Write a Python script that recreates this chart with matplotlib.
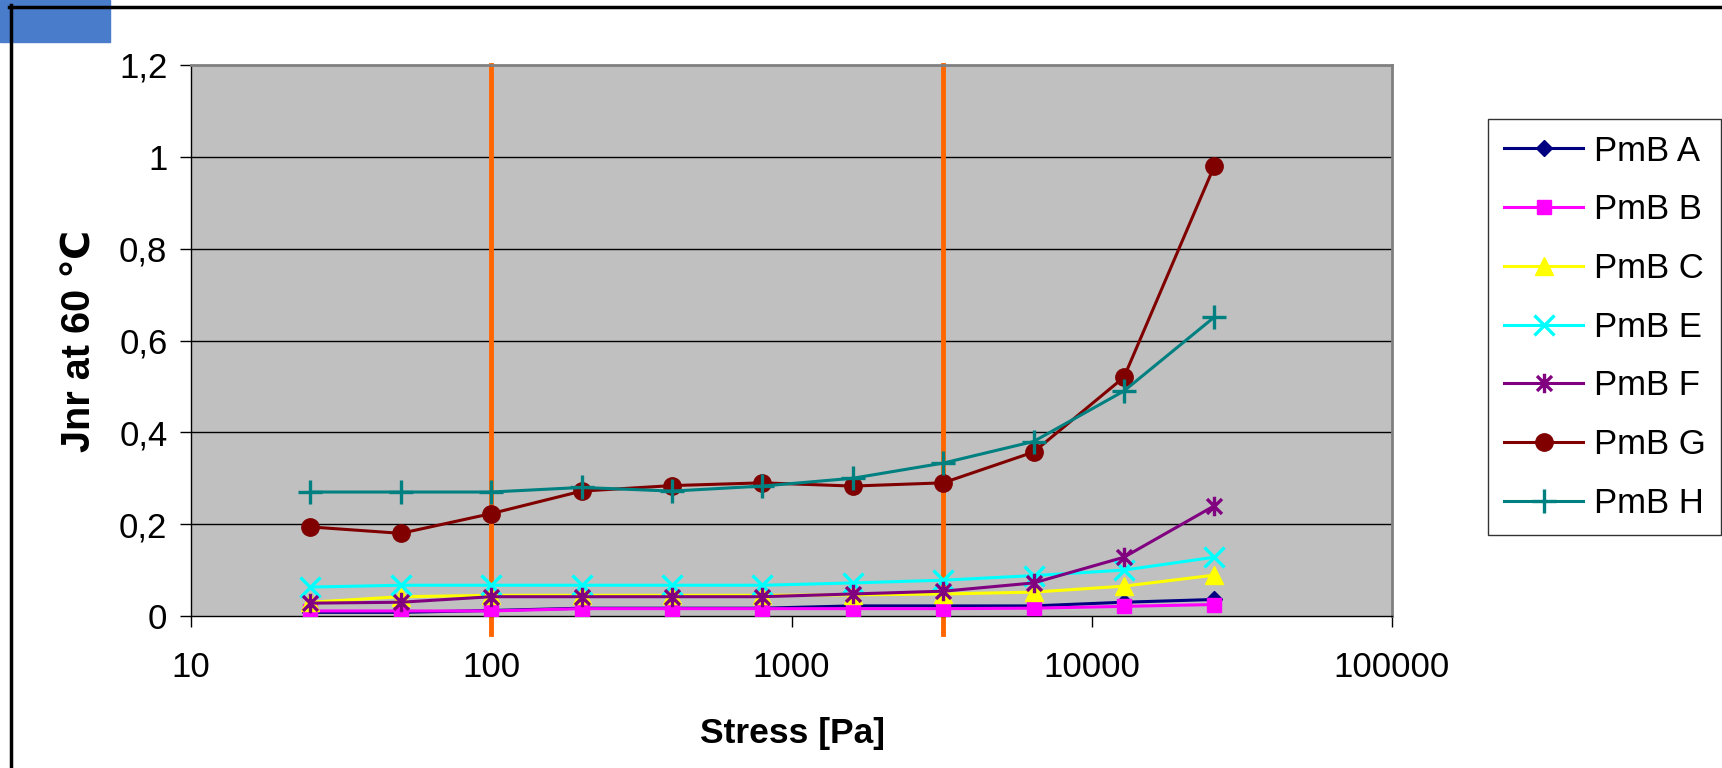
import matplotlib
matplotlib.use('Agg')
from matplotlib import pyplot as plt
from matplotlib.lines import Line2D
from matplotlib.patches import Rectangle
from matplotlib.path import Path
from matplotlib.ticker import FixedLocator, FuncFormatter, NullLocator
import numpy as np

plt.rcParams['font.family'] = ['Liberation Sans', 'DejaVu Sans']

# Data
stress = [25, 50, 100, 200, 400, 800, 1600, 3200, 6400, 12800, 25600]
pmb_a = [0.008, 0.008, 0.012, 0.017, 0.017, 0.017, 0.022, 0.022, 0.022, 0.030, 0.036]
pmb_b = [0.011, 0.011, 0.011, 0.016, 0.016, 0.016, 0.016, 0.016, 0.017, 0.021, 0.025]
pmb_c = [0.030, 0.042, 0.045, 0.045, 0.045, 0.045, 0.046, 0.048, 0.052, 0.065, 0.089]
pmb_e = [0.063, 0.067, 0.067, 0.067, 0.067, 0.067, 0.072, 0.078, 0.088, 0.100, 0.128]
pmb_f = [0.028, 0.030, 0.042, 0.042, 0.042, 0.042, 0.048, 0.054, 0.072, 0.128, 0.240]
pmb_g = [0.194, 0.180, 0.223, 0.272, 0.284, 0.290, 0.283, 0.290, 0.357, 0.520, 0.980]
pmb_h = [0.270, 0.270, 0.270, 0.280, 0.272, 0.283, 0.300, 0.333, 0.380, 0.490, 0.651]
labels = ['PmB A', 'PmB B', 'PmB C', 'PmB E', 'PmB F', 'PmB G', 'PmB H']
series = [pmb_a, pmb_b, pmb_c, pmb_e, pmb_f, pmb_g, pmb_h]
limits = [100, 3200]
yticks = [0, 0.2, 0.4, 0.6, 0.8, 1.0, 1.2]
xticks = [10, 100, 1000, 10000, 100000]

# Excel style star: an x with a vertical bar
star = Path([(-1, -1), (1, 1), (-1, 1), (1, -1), (0, -1.3), (0, 1.3)],
            [Path.MOVETO, Path.LINETO, Path.MOVETO, Path.LINETO, Path.MOVETO, Path.LINETO])

styles = [
    dict(color='#000080', marker='D', ms=8),
    dict(color='#FF00FF', marker='s', ms=10),
    dict(color='#FFFF00', marker='^', ms=13),
    dict(color='#00FFFF', marker='x', ms=14, mew=2.4),
    dict(color='#800080', marker=star, ms=14, mew=2.4),
    dict(color='#800000', marker='o', ms=12.5),
    dict(color='#008080', marker='+', ms=17, mew=2.4),
]

fig = plt.figure(figsize=(17.22, 7.68), dpi=100)
W, H = 1722, 768

# logo fragment and frame
fig.patches.append(Rectangle((0, 1 - 42 / H), 110 / W, 42 / H, transform=fig.transFigure,
                             color='#4a7ccc', zorder=0))
fig.lines.append(Line2D([10.5 / W, 10.5 / W], [0, 1 - 5 / H], transform=fig.transFigure,
                        color='black', lw=2.5))
fig.lines.append(Line2D([9 / W, 1], [1 - 6.5 / H, 1 - 6.5 / H], transform=fig.transFigure,
                        color='black', lw=2.5))

ax = fig.add_axes([191 / W, 1 - 616 / H, (1392 - 191) / W, (616 - 65) / H])
ax.set_facecolor('#C0C0C0')
ax.set_xscale('log')
ax.set_xlim(10, 100000)
ax.set_ylim(0, 1.2)

for y in yticks[1:-1]:
    ax.axhline(y, color='black', lw=1, zorder=1)

for x in limits:
    ax.plot([x, x], [-0.04, 1.2], color='#FF6600', lw=3.5, clip_on=False, zorder=2)

for vals, lab, st in zip(series, labels, styles):
    ax.plot(stress, vals, lw=2.2, label=lab, zorder=3, **st)

ax.xaxis.set_major_locator(FixedLocator(xticks))
ax.xaxis.set_minor_locator(NullLocator())
ax.xaxis.set_major_formatter(FuncFormatter(lambda v, p: f'{int(v)}'))
ax.yaxis.set_major_locator(FixedLocator(yticks))
ax.yaxis.set_major_formatter(FuncFormatter(lambda v, p: f'{v:g}'.replace('.', ',')))
ax.tick_params(axis='both', labelsize=25, length=8, width=1, direction='out')
ax.tick_params(axis='x', pad=17)
ax.tick_params(axis='y', pad=9)

for s in ['left', 'bottom']:
    ax.spines[s].set_color('black')
    ax.spines[s].set_linewidth(1)
for s in ['top', 'right']:
    ax.spines[s].set_color('#808080')
    ax.spines[s].set_linewidth(2)

fig.text(792 / W, 1 - 733 / H, 'Stress [Pa]', fontsize=25.5, fontweight='bold',
         ha='center', va='center')
fig.text(80 / W, 1 - 341 / H, 'Jnr at 60 \u2103', fontsize=28.5, fontweight='bold',
         ha='center', va='center', rotation=90)

leg = fig.legend(loc='upper left', bbox_to_anchor=(1488 / W, 1 - 119 / H),
                 bbox_transform=fig.transFigure, fontsize=25, frameon=True,
                 fancybox=False, edgecolor='black', handlelength=2.3,
                 handletextpad=0.3, labelspacing=0.74, borderpad=0.45,
                 borderaxespad=0)
leg.get_frame().set_linewidth(1)

plt.savefig('out.png', dpi=100)
